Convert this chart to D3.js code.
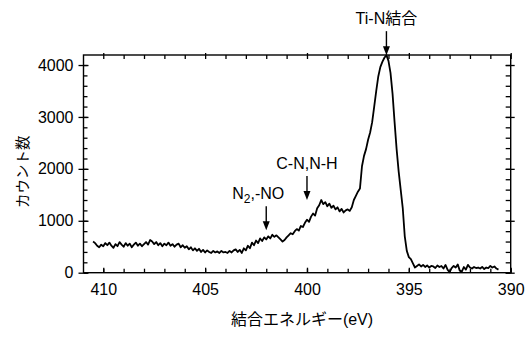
<!DOCTYPE html>
<html>
<head>
<meta charset="utf-8">
<script src="https://cdn.jsdelivr.net/npm/d3@7"></script>
<style>
  body { margin: 0; background: #fff; }
  svg text { fill: #000; }
</style>
</head>
<body>
<div id="chart"></div>
<script>
'use strict';

// binding energy (eV), 0.1 eV steps
const bindingEnergy = [
    410.5, 410.4, 410.3, 410.2, 410.1, 410.0, 409.9, 409.8, 409.7, 409.6,
    409.5, 409.4, 409.3, 409.2, 409.1, 409.0, 408.9, 408.8, 408.7, 408.6,
    408.5, 408.4, 408.3, 408.2, 408.1, 408.0, 407.9, 407.8, 407.7, 407.6,
    407.5, 407.4, 407.3, 407.2, 407.1, 407.0, 406.9, 406.8, 406.7, 406.6,
    406.5, 406.4, 406.3, 406.2, 406.1, 406.0, 405.9, 405.8, 405.7, 405.6,
    405.5, 405.4, 405.3, 405.2, 405.1, 405.0, 404.9, 404.8, 404.7, 404.6,
    404.5, 404.4, 404.3, 404.2, 404.1, 404.0, 403.9, 403.8, 403.7, 403.6,
    403.5, 403.4, 403.3, 403.2, 403.1, 403.0, 402.9, 402.8, 402.7, 402.6,
    402.5, 402.4, 402.3, 402.2, 402.1, 402.0, 401.9, 401.8, 401.7, 401.6,
    401.5, 401.4, 401.3, 401.2, 401.1, 401.0, 400.9, 400.8, 400.7, 400.6,
    400.5, 400.4, 400.3, 400.2, 400.1, 400.0, 399.9, 399.8, 399.7, 399.6,
    399.5, 399.4, 399.3, 399.2, 399.1, 399.0, 398.9, 398.8, 398.7, 398.6,
    398.5, 398.4, 398.3, 398.2, 398.1, 398.0, 397.9, 397.8, 397.7, 397.6,
    397.5, 397.4, 397.3, 397.2, 397.1, 397.0, 396.9, 396.8, 396.7, 396.6,
    396.5, 396.4, 396.3, 396.2, 396.1, 396.0, 395.9, 395.8, 395.7, 395.6,
    395.5, 395.4, 395.3, 395.2, 395.1, 395.0, 394.9, 394.8, 394.7, 394.6,
    394.5, 394.4, 394.3, 394.2, 394.1, 394.0, 393.9, 393.8, 393.7, 393.6,
    393.5, 393.4, 393.3, 393.2, 393.1, 393.0, 392.9, 392.8, 392.7, 392.6,
    392.5, 392.4, 392.3, 392.2, 392.1, 392.0, 391.9, 391.8, 391.7, 391.6,
    391.5, 391.4, 391.3, 391.2, 391.1, 391.0, 390.9, 390.8, 390.7, 390.6
];

const counts = [
    600, 570, 520, 490, 540, 510, 570, 530, 580, 520,
    480, 550, 510, 590, 540, 500, 570, 520, 560, 490,
    540, 580, 520, 560, 510, 550, 590, 540, 630, 600,
    550, 590, 530, 570, 510, 560, 530, 580, 520, 550,
    500, 540, 560, 490, 530, 480, 510, 450, 490, 430,
    470, 420, 460, 400, 440, 390, 430, 400, 380, 420,
    390, 410, 380, 420, 390, 400, 380, 420, 390, 430,
    450, 400, 440, 380, 470, 430, 520, 470, 580, 530,
    620, 570, 660, 610, 680, 640, 700, 660, 730, 690,
    720, 680, 640, 600, 630, 680, 720, 760, 740, 800,
    840, 810, 900, 880, 960, 1020, 980, 1080, 1140, 1100,
    1240, 1300, 1400, 1320, 1360, 1280, 1330, 1250, 1290, 1220,
    1260, 1180, 1230, 1160, 1200, 1220, 1190, 1260, 1400, 1480,
    1560, 1620, 2050, 2250, 2380, 2560, 2700, 2900, 3200, 3500,
    3780, 3960, 4060, 4140, 4190, 4080, 3850, 3450, 2900, 2380,
    1950, 1600, 1250, 700, 420, 300, 260, 180, 100, 130,
    160, 120, 150, 110, 140, 100, 130, 120, 90, 140,
    110, 130, 80, 150, 60, 10, 90, 130, 100, 160,
    40, 20, 110, 60, 150, 100, 80, 110, 90, 100,
    80, 110, 70, 100, 90, 130, 100, 120, 80, 60
];

const xTicks = [410, 405, 400, 395, 390];
const yTicks = [0, 1000, 2000, 3000, 4000];

const annotLabels = ['N2,-NO', 'C-N,N-H', 'Ti-N結合'];
const annotEnergy = [402.0, 400.0, 396.1];
const annotCount = [820, 1400, 4190];

const xTitle = '結合エネルギー(eV)';
const yTitle = 'カウント数';

const FONT = '"Liberation Sans", Arial, "Noto Sans CJK JP", sans-serif';

let margin = { top: 55, right: 20.3, bottom: 65.3, left: 83.5 };
let width = 531 - margin.left - margin.right;
let height = 338 - margin.top - margin.bottom;

let svg = d3.select('#chart').append('svg')
    .attr('width', 531)
    .attr('height', 338);

let g = svg.append('g')
    .attr('transform', 'translate(' + margin.left + ',' + margin.top + ')');

let x = d3.scaleLinear().domain([410.97, 390]).range([0, width]);
let y = d3.scaleLinear().domain([0, 4193]).range([height, 0]);

function cleanAxis(sel) {
    sel.select('.domain').remove();
    sel.selectAll('.tick line').attr('stroke-width', 1.3);
    sel.attr('font-family', FONT).attr('font-size', 16);
}

// bottom: labels + inward ticks
g.append('g').attr('transform', 'translate(0,' + height + ')')
    .call(d3.axisBottom(x).tickValues(xTicks).tickSize(-5).tickPadding(10.5).tickFormat(d3.format('d')))
    .call(cleanAxis);
g.append('g').attr('transform', 'translate(0,' + height + ')')
    .call(d3.axisBottom(x).tickValues(x.ticks(20)).tickSize(-4).tickFormat(''))
    .call(cleanAxis);

// top
g.append('g')
    .call(d3.axisTop(x).tickValues(xTicks).tickSize(2).tickFormat(''))
    .call(cleanAxis);
g.append('g')
    .call(d3.axisTop(x).tickValues(x.ticks(20)).tickSize(-4).tickFormat(''))
    .call(cleanAxis);

// left: labels + outward majors, inward majors/minors
g.append('g')
    .call(d3.axisLeft(y).tickValues(yTicks).tickSize(5).tickPadding(5).tickFormat(d3.format('d')))
    .call(cleanAxis);
g.append('g')
    .call(d3.axisLeft(y).tickValues(yTicks).tickSize(-5).tickFormat(''))
    .call(cleanAxis);
g.append('g')
    .call(d3.axisLeft(y).tickValues(y.ticks(20)).tickSize(-4).tickFormat(''))
    .call(cleanAxis);

// right
g.append('g').attr('transform', 'translate(' + width + ',0)')
    .call(d3.axisRight(y).tickValues(yTicks).tickSize(4).tickFormat(''))
    .call(cleanAxis);
g.append('g').attr('transform', 'translate(' + width + ',0)')
    .call(d3.axisRight(y).tickValues(yTicks).tickSize(-5).tickFormat(''))
    .call(cleanAxis);
g.append('g').attr('transform', 'translate(' + width + ',0)')
    .call(d3.axisRight(y).tickValues(y.ticks(20)).tickSize(-5).tickFormat(''))
    .call(cleanAxis);

// frame
g.append('rect')
    .attr('width', width)
    .attr('height', height)
    .attr('fill', 'none')
    .attr('stroke', '#000')
    .attr('stroke-width', 1.4);

// spectrum
let line = d3.line()
    .x(function (d, i) { return x(bindingEnergy[i]); })
    .y(function (d) { return y(d); });

g.append('path')
    .datum(counts)
    .attr('d', line)
    .attr('fill', 'none')
    .attr('stroke', '#000')
    .attr('stroke-width', 1.8)
    .attr('stroke-linejoin', 'round');

// annotations: arrow pointing down at the feature, label above
let labelShift = [-8, 0, 0];
annotLabels.forEach(function (label, i) {
    let ax = x(annotEnergy[i]);
    let tip = y(annotCount[i]);
    let top = tip - 24;

    g.append('line')
        .attr('x1', ax).attr('x2', ax)
        .attr('y1', top).attr('y2', tip - 6)
        .attr('stroke', '#000')
        .attr('stroke-width', 1.4);
    g.append('path')
        .attr('d', 'M' + (ax - 3.5) + ',' + (tip - 9) + 'L' + (ax + 3.5) + ',' + (tip - 9) + 'L' + ax + ',' + tip + 'Z')
        .attr('fill', '#000');

    let t = g.append('text')
        .attr('x', ax + labelShift[i])
        .attr('y', top - 7)
        .attr('text-anchor', 'middle')
        .attr('font-family', FONT)
        .attr('font-size', 16);

    if (label.indexOf('N2') === 0) {
        t.append('tspan').text('N');
        t.append('tspan').attr('font-size', 12).attr('dy', 4).text('2');
        t.append('tspan').attr('dy', -4).text(label.slice(2));
    } else {
        t.text(label);
    }
});

// axis titles
svg.append('text')
    .attr('x', 302)
    .attr('y', 325)
    .attr('text-anchor', 'middle')
    .attr('font-family', FONT)
    .attr('font-size', 16)
    .text(xTitle);

svg.append('text')
    .attr('transform', 'translate(23.3,171.7) rotate(-90)')
    .attr('text-anchor', 'middle')
    .attr('dominant-baseline', 'central')
    .attr('font-family', FONT)
    .attr('font-size', 14.5)
    .text(yTitle);
</script>
</body>
</html>
